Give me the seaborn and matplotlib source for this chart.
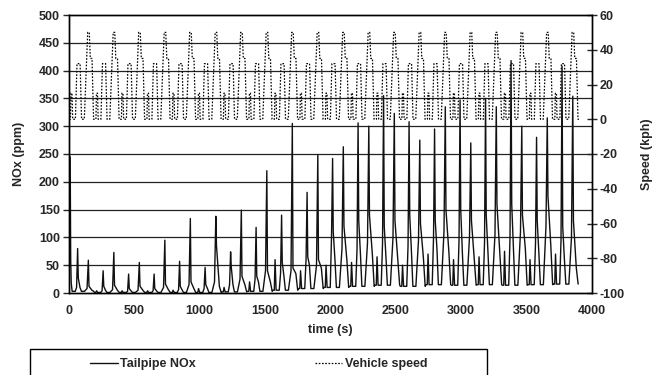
import numpy as np
import pandas as pd
import matplotlib
matplotlib.use("Agg")
import matplotlib.pyplot as plt
from matplotlib.lines import Line2D
from matplotlib.patches import Rectangle
import seaborn as sns

# ECE-15 urban cycle, repeated 20 times
cycle_len = 195
n_cycles = 20
ece_t = [0, 11, 15, 23, 28, 49, 61, 85, 96, 117, 143, 155, 163, 176, 188, 195]
ece_kph = [0, 0, 15, 15, 0, 0, 32, 32, 0, 0, 50, 50, 35, 35, 0, 0]

# tailpipe NOx, per cycle levels (ppm)
cold_t = [0, 9, 13, 17, 23]
cold_nox = [60, 245, 60, 18, 5]
nox_idle = [3, 1, 1, 1, 1, 1, 2, 3, 5, 8, 10, 12, 14, 12, 15, 14, 15, 14, 15, 16]
nox_bump = [6, 4, 4, 4, 5, 8, 10, 20, 60, 40, 50, 55, 65, 50, 70, 60, 65, 75, 60, 70]
nox_pre_a = [10, 4, 3, 4, 6, 8, 15, 25, 35, 60, 104, 80, 90, 85, 100, 95, 90, 100, 90, 95]
nox_peak_a = [80, 40, 34, 34, 57, 46, 74, 118, 140, 181, 242, 306, 355, 308, 295, 347, 350, 418, 280, 408]
nox_hump_a = [27, 12, 8, 8, 12, 15, 47, 30, 55, 65, 110, 130, 120, 140, 130, 150, 140, 160, 130, 120]
nox_tail_a = [10, 5, 4, 4, 6, 8, 15, 20, 30, 50, 60, 70, 65, 75, 80, 70, 75, 80, 70, 60]
nox_pre_b = [8, 6, 5, 10, 15, 20, 25, 40, 40, 50, 80, 90, 100, 95, 110, 100, 105, 110, 120, 100]
nox_peak_b = [59, 73, 55, 95, 134, 138, 149, 220, 305, 249, 263, 300, 323, 275, 335, 270, 335, 300, 315, 354]
nox_hump_b = [12, 14, 12, 16, 20, 85, 30, 40, 45, 60, 120, 140, 130, 125, 150, 130, 160, 140, 175, 130]
nox_tail_b = [5, 5, 5, 6, 8, 12, 15, 20, 35, 45, 60, 70, 60, 65, 75, 60, 70, 80, 85, 45]
nox_rel_t = [0, 10, 16, 24, 48, 58, 66, 71, 84, 95, 118, 138, 148, 153, 175, 189]

# assemble the traces cycle by cycle
spd_t, spd_v = [], []
for k in range(n_cycles):
    for t, v in zip(ece_t, ece_kph):
        spd_t.append(k * cycle_len + t)
        spd_v.append(v)
speed = pd.DataFrame({"time": spd_t, "speed": spd_v}).drop_duplicates("time")

nox_t, nox_v = list(cold_t), list(cold_nox)
for k in range(n_cycles):
    vals = [nox_idle[k], nox_idle[k], nox_bump[k], nox_idle[k], nox_idle[k],
            nox_pre_a[k], nox_peak_a[k], nox_hump_a[k], nox_tail_a[k],
            nox_idle[k], nox_idle[k], nox_pre_b[k], nox_peak_b[k],
            nox_hump_b[k], nox_tail_b[k], nox_idle[k]]
    for t, v in zip(nox_rel_t, vals):
        if k == 0 and t < 24:
            continue
        nox_t.append(k * cycle_len + t)
        nox_v.append(v)
nox = pd.DataFrame({"time": nox_t, "nox": nox_v})

sns.set_style("white")
plt.rcParams["font.family"] = ["Liberation Sans", "DejaVu Sans"]
plt.rcParams["font.weight"] = "bold"
plt.rcParams["axes.labelweight"] = "bold"
plt.rcParams["axes.unicode_minus"] = False

fs = 9
fig = plt.figure(figsize=(6.65, 3.75), dpi=100)
ax = fig.add_axes([69 / 665, 1 - 293 / 375, (592 - 69) / 665, (293 - 15) / 375])
ax2 = ax.twinx()

for y in range(50, 500, 50):
    ax.axhline(y, color="#222222", lw=0.9, zorder=0)

sns.lineplot(data=nox, x="time", y="nox", ax=ax, color="#111111", lw=1.0)
sns.lineplot(data=speed, x="time", y="speed", ax=ax2, color="black", lw=0.9,
             linestyle=(0, (1.3, 1.3)))

ax.set_xlim(0, 4000)
ax.set_ylim(0, 500)
ax2.set_ylim(-100, 60)
ax.set_xticks(range(0, 4001, 500))
ax.set_yticks(range(0, 501, 50))
ax2.set_yticks(range(-100, 61, 20))

for a in (ax, ax2):
    for s in a.spines.values():
        s.set_color("black")
        s.set_linewidth(1.0)
ax.tick_params(axis="y", direction="out", length=4.5, width=1, labelsize=fs, pad=2)
ax.tick_params(axis="x", direction="inout", length=5, width=1, labelsize=fs, pad=6)
ax2.tick_params(axis="y", direction="inout", length=6.5, width=1, labelsize=fs, pad=2)

ax.set_xlabel("time (s)", fontsize=fs, fontweight="bold", labelpad=5)
ax.set_ylabel("NOx (ppm)", fontsize=fs, fontweight="bold", labelpad=10)
ax2.set_ylabel("Speed (kph)", fontsize=fs, fontweight="bold", labelpad=12)

# legend box below the chart, one entry centred in each half
fig.add_artist(Rectangle((30 / 665, -0.02), 457 / 665, 1 - 349 / 375 + 0.02,
                         transform=fig.transFigure, fill=False,
                         edgecolor="black", lw=1.0))
h1 = Line2D([], [], color="#111111", lw=1.0)
h2 = Line2D([], [], color="black", lw=0.9, linestyle=(0, (1.3, 1.3)))
for h, lab, cx in [(h1, "Tailpipe NOx", 143), (h2, "Vehicle speed", 371)]:
    fig.legend([h], [lab], loc="center", bbox_to_anchor=(cx / 665, 1 - 364 / 375),
               frameon=False, handlelength=2.2, handletextpad=0.2,
               prop={"weight": "bold", "size": fs})

fig.savefig("out.png", dpi=100)
